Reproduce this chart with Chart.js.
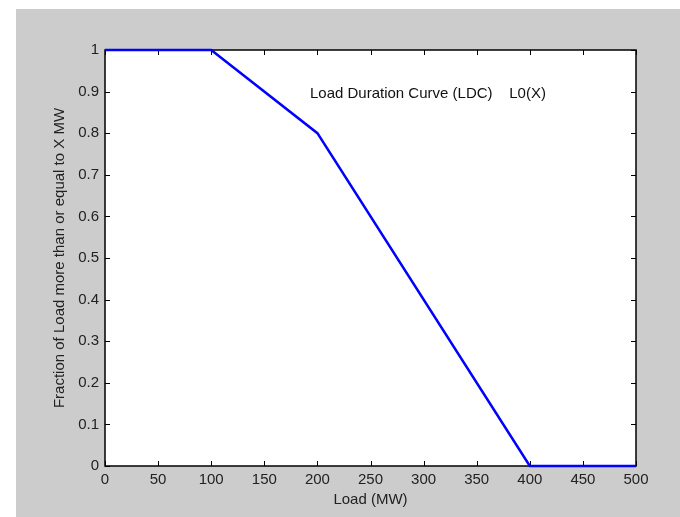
<!DOCTYPE html>
<html>
<head>
<meta charset="utf-8">
<script src="https://cdn.jsdelivr.net/npm/chart.js@4.4.0/dist/chart.umd.min.js"></script>
<style>
  body { margin: 0; background: #fff; }
  canvas { display: block; }
</style>
</head>
<body>
<canvas id="ldcChart" width="680" height="517"></canvas>
<script>
const loadMW = [0, 100, 200, 400, 500];
const fraction = [1, 1, 0.8, 0, 0];
const xLimits = [0, 500];
const yLimits = [0, 1];
const curveLabel = "Load Duration Curve (LDC)    L0(X)";
const labelAt = [193, 0.895]; // data coords of the text inside the axes

const FONT = "'Liberation Sans', Arial, Helvetica, sans-serif";
const FSIZE = 15;

// grey figure background
const figureBg = {
  id: "figureBg",
  beforeDraw(chart) {
    const ctx = chart.ctx;
    ctx.save();
    ctx.fillStyle = "#ffffff";
    ctx.fillRect(0, 0, chart.width, chart.height);
    ctx.fillStyle = "#cccccc";
    ctx.fillRect(16, 9, chart.width - 16, chart.height - 9);
    const a = chart.chartArea;
    ctx.fillStyle = "#ffffff";
    ctx.fillRect(a.left, a.top, a.right - a.left, a.bottom - a.top);
    ctx.restore();
  }
};

// matlab style box with inward ticks on all four sides
const boxTicks = {
  id: "boxTicks",
  beforeDatasetsDraw(chart) {
    const { ctx, chartArea: a, scales } = chart;
    const len = 5;
    ctx.save();
    ctx.strokeStyle = "#000";
    ctx.lineWidth = 1;
    ctx.beginPath();
    scales.x.ticks.forEach(t => {
      const px = Math.round(scales.x.getPixelForValue(t.value)) + 0.5;
      ctx.moveTo(px, a.bottom); ctx.lineTo(px, a.bottom - len);
      ctx.moveTo(px, a.top); ctx.lineTo(px, a.top + len);
    });
    scales.y.ticks.forEach(t => {
      const py = Math.round(scales.y.getPixelForValue(t.value)) + 0.5;
      ctx.moveTo(a.left, py); ctx.lineTo(a.left + len, py);
      ctx.moveTo(a.right, py); ctx.lineTo(a.right - len, py);
    });
    ctx.stroke();
    ctx.lineWidth = 1.5;
    ctx.strokeRect(a.left, a.top, a.right - a.left, a.bottom - a.top);

    ctx.fillStyle = "#111";
    ctx.font = FSIZE + "px " + FONT;
    ctx.textBaseline = "middle";
    ctx.textAlign = "left";
    ctx.fillText(curveLabel,
      scales.x.getPixelForValue(labelAt[0]),
      scales.y.getPixelForValue(labelAt[1]));
    ctx.restore();
  }
};

window.onload = function () {
  const ctx = document.getElementById("ldcChart").getContext("2d");

  new Chart(ctx, {
    type: "scatter",
    data: {
      datasets: [
        {
          data: loadMW.map((x, i) => ({ x: x, y: fraction[i] })),
          showLine: true,
          borderColor: "#0000ff",
          borderWidth: 2.5,
          pointRadius: 0,
          clip: false,
        },
      ],
    },
    options: {
      responsive: false,
      animation: false,
      layout: { padding: { left: 16, top: 50, right: 44, bottom: 0 } },
      plugins: { legend: { display: false }, tooltip: { enabled: false } },
      scales: {
        x: {
          type: "linear",
          min: xLimits[0],
          max: xLimits[1],
          grid: { display: false, drawTicks: false },
          border: { display: false },
          ticks: { stepSize: 50, padding: 5, color: "#222", font: { family: FONT, size: FSIZE }, maxRotation: 0 },
          title: { display: true, text: "Load (MW)", color: "#222", font: { family: FONT, size: FSIZE }, padding: { top: 0, bottom: 8 } },
          afterFit(scale) { scale.height = 51; },
        },
        y: {
          type: "linear",
          min: yLimits[0],
          max: yLimits[1],
          grid: { display: false, drawTicks: false },
          border: { display: false },
          ticks: {
            stepSize: 0.1, padding: 6, color: "#222", font: { family: FONT, size: FSIZE },
            callback: v => String(Math.round(v * 10) / 10),
          },
          title: { display: true, text: "Fraction of Load more than or equal to X MW", color: "#222", font: { family: FONT, size: FSIZE }, padding: { top: 35, bottom: 0 } },
          afterFit(scale) { scale.width = 89; },
        },
      },
    },
    plugins: [figureBg, boxTicks],
  });
};
</script>
</body>
</html>
